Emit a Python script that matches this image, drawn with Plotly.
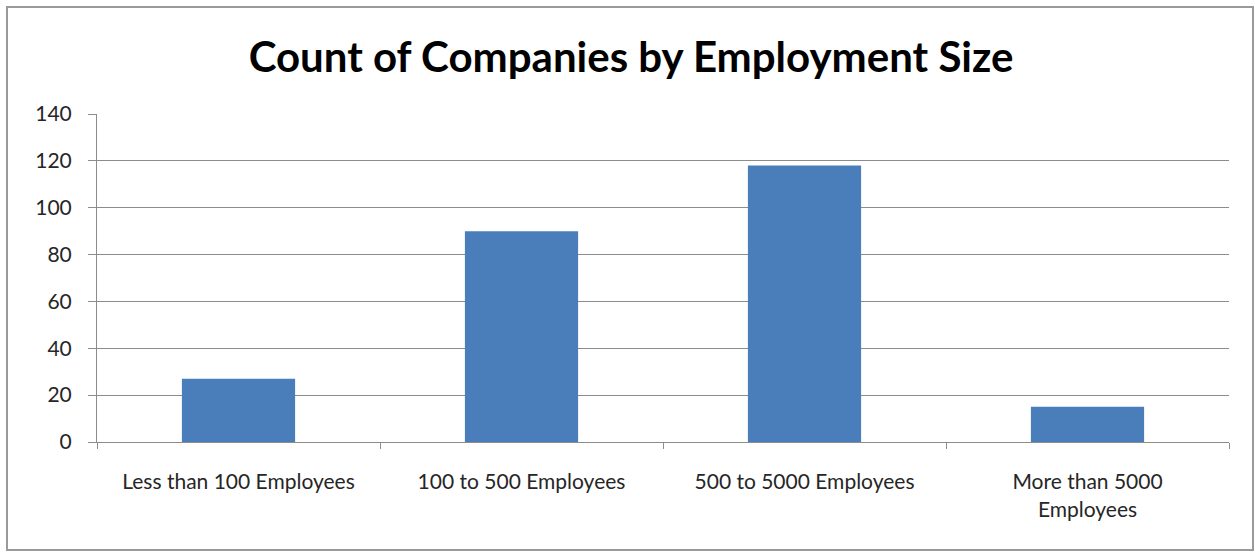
import plotly.graph_objects as go

# Company counts per employment-size band
categories = ["Less than 100 Employees", "100 to 500 Employees",
              "500 to 5000 Employees", "More than 5000 Employees"]
tick_labels = ["Less than 100 Employees", "100 to 500 Employees",
               "500 to 5000 Employees", "More than 5000<br>Employees"]
counts = [27, 90, 118, 15]
y_ticks = [0, 20, 40, 60, 80, 100, 120, 140]

W, H = 1255, 552
FONT = "Lato"
GRID = "#8c8c8c"
TEXT = "#262626"

fig = go.Figure(
    go.Bar(
        x=categories,
        y=counts,
        marker=dict(color="#4a7ebb", line=dict(width=0)),
        width=0.4,
    )
)

fig.update_layout(
    width=W,
    height=H,
    margin=dict(l=97, r=26, t=114, b=110),
    paper_bgcolor="white",
    plot_bgcolor="white",
    showlegend=False,
    title=dict(
        text="Count of Companies by Employment Size",
        font=dict(family=FONT, size=42, color="black", weight="bold"),
        x=631 / W,
        xanchor="center",
        xref="container",
        y=1 - 57 / H,
        yanchor="middle",
        yref="container",
    ),
    font=dict(family=FONT, size=21, color=TEXT),
    shapes=[
        # outer chart frame
        dict(type="rect", xref="paper", yref="paper",
             x0=-90 / 1132, x1=1 + 24 / 1132,
             y0=-108 / 328, y1=1 + 107 / 328,
             line=dict(color="#9a9a9a", width=2)),
    ],
)

fig.update_xaxes(
    type="category",
    tickmode="array",
    tickvals=categories,
    ticktext=tick_labels,
    showline=True,
    linecolor=GRID,
    linewidth=1,
    ticks="outside",
    tickson="boundaries",
    ticklen=6,
    tickcolor=GRID,
    ticklabelstandoff=21,
    showgrid=False,
    tickfont=dict(family=FONT, size=21, color=TEXT),
)

fig.update_yaxes(
    range=[0, 140],
    tickmode="array",
    tickvals=y_ticks,
    showline=True,
    linecolor=GRID,
    linewidth=1,
    ticks="outside",
    ticklen=8,
    tickcolor=GRID,
    ticklabelstandoff=12,
    showgrid=True,
    gridcolor=GRID,
    gridwidth=1,
    zeroline=False,
    tickfont=dict(family=FONT, size=21, color=TEXT),
)

fig.write_html("out.html")
